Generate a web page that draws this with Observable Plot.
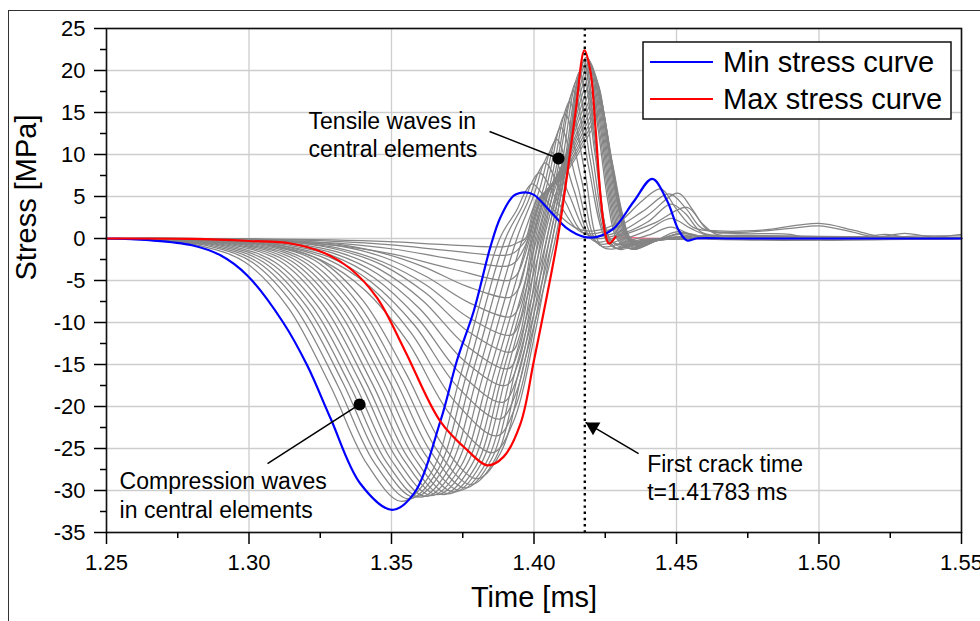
<!DOCTYPE html>
<html><head><meta charset="utf-8">
<script src="https://cdn.jsdelivr.net/npm/d3@7"></script>
<script src="https://cdn.jsdelivr.net/npm/@observablehq/plot@0.6"></script>
<style>
html,body{margin:0;padding:0;background:#fff;overflow:hidden;}
#wrap{position:relative;width:980px;height:621px;overflow:hidden;}
#outer{position:absolute;left:8px;top:10px;width:1000px;height:700px;border-left:1.2px solid #333;border-top:1.2px solid #333;}
#chart{position:absolute;left:0;top:0;}
#legend{position:absolute;left:642px;top:41px;}
</style></head><body>
<div id="wrap"><div id="outer"></div><div id="chart"></div><div id="legend"></div></div>
<script>
// ---- ticks ----
const xMajor = [1.25, 1.30, 1.35, 1.40, 1.45, 1.50, 1.55];
const xMinor = [1.275, 1.325, 1.375, 1.425, 1.475, 1.525];
const yMajor = [-35, -30, -25, -20, -15, -10, -5, 0, 5, 10, 15, 20, 25];
const yMinor = [-32.5, -27.5, -22.5, -17.5, -12.5, -7.5, -2.5, 2.5, 7.5, 12.5, 17.5, 22.5];

// ---- highlighted curves [time ms, stress MPa] ----
const minStressCurve = [[1.25,0],[1.265,-0.2],[1.28,-0.8],[1.29,-2.0],[1.2994,-4.4],[1.312,-10.0],[1.3204,-15.1],[1.3286,-21.4],[1.3391,-29.2],[1.3502,-32.3],[1.3578,-30.4],[1.3672,-21.7],[1.373,-14.5],[1.3789,-8.6],[1.3847,-1.0],[1.3882,2.5],[1.3929,5.1],[1.397,5.5],[1.4,5.2],[1.4058,3.2],[1.4116,1.2],[1.4175,0.2],[1.4222,0.2],[1.428,1.2],[1.435,4.4],[1.4415,7.1],[1.4467,4.5],[1.4508,0.95],[1.4537,-0.24],[1.457,0],[1.47,0],[1.55,0]];
const maxStressCurve = [[1.25,0],[1.28,-0.05],[1.30,-0.3],[1.3146,-0.6],[1.3262,-1.7],[1.3356,-3.6],[1.345,-7.1],[1.3545,-13.2],[1.367,-21.7],[1.3766,-25.2],[1.3836,-27.0],[1.3893,-26.0],[1.3953,-22.0],[1.40,-14.5],[1.4081,-0.4],[1.4116,7.5],[1.4146,15.1],[1.4177,22.4],[1.4198,19.9],[1.4216,13.1],[1.4233,5.2],[1.4251,0.4],[1.4263,-0.6],[1.4286,0.2],[1.44,0],[1.55,0]];

// ---- element curves (gray) ----
const grayA01 = [[1.25,0],[1.2685,-0.3],[1.2835,-0.9],[1.2985,-2.8],[1.3135,-8.1],[1.3285,-17.5],[1.3415,-26.9],[1.3535,-31.3],[1.3639,-27.9],[1.3742,-16.3],[1.388,0],[1.3938,3.3],[1.3972,5.7],[1.3995,6.5],[1.4072,3.3],[1.415,1.2],[1.421,0.9],[1.43,2.0],[1.438,4.5],[1.4445,5.9],[1.45,3.5],[1.456,1.3],[1.465,0.9],[1.48,1.0],[1.5,1.8],[1.512,1.0],[1.522,0.2],[1.535,0.3],[1.55,0.3]];
const grayA02 = [[1.25,0],[1.271,-0.3],[1.286,-0.9],[1.301,-2.8],[1.316,-8.1],[1.331,-17.4],[1.344,-26.7],[1.356,-31.0],[1.3662,-27.6],[1.3764,-16.1],[1.39,0],[1.396,3.9],[1.3996,6.9],[1.402,7.8],[1.4092,3.9],[1.417,0.7],[1.428,1.2],[1.438,3.2],[1.4475,5.3],[1.4535,3.5],[1.459,1.2],[1.47,0.7],[1.49,1.2],[1.5,1.5],[1.51,0.9],[1.52,0.2],[1.53,0.6],[1.54,0.2],[1.55,0.5]];
const grayA03 = [[1.25,0],[1.273,-0.3],[1.288,-0.9],[1.303,-2.8],[1.318,-8.0],[1.333,-17.2],[1.346,-26.5],[1.358,-30.8],[1.3682,-27.4],[1.3784,-16.0],[1.392,0],[1.398,4.5],[1.4016,7.9],[1.404,9.0],[1.4108,4.5],[1.418,0.5],[1.43,0.8],[1.44,2.8],[1.4505,5.4],[1.4555,3.5],[1.461,1.0],[1.47,0.6],[1.49,0.5],[1.495,0.1],[1.505,-0.2],[1.515,0.1],[1.523,0.5],[1.53,0.2],[1.55,0.1]];
const grayA04 = [[1.25,0],[1.275,-0.3],[1.29,-0.9],[1.305,-2.8],[1.32,-8.0],[1.335,-17.2],[1.348,-26.5],[1.36,-30.8],[1.3702,-27.4],[1.3804,-16.0],[1.394,0],[1.4,5.2],[1.4036,9.1],[1.406,10.3],[1.4123,5.2],[1.42,0.2],[1.43,0.5],[1.44,2.0],[1.448,4.1],[1.453,3.0],[1.459,0.7],[1.47,0.3],[1.5,0.2],[1.55,0.1]];
const grayA05 = [[1.25,0],[1.277,-0.3],[1.292,-0.9],[1.307,-2.8],[1.322,-8.0],[1.337,-17.2],[1.35,-26.4],[1.362,-30.7],[1.3722,-27.3],[1.3824,-16.0],[1.396,0],[1.402,5.9],[1.4056,10.4],[1.408,11.8],[1.4139,5.9],[1.421,-0.3],[1.43,0.3],[1.442,1.8],[1.4537,3.7],[1.459,1.8],[1.464,0.5],[1.48,0.3],[1.55,0.1]];
const grayA06 = [[1.25,0],[1.279,-0.3],[1.294,-0.9],[1.309,-2.8],[1.324,-8.0],[1.339,-17.1],[1.352,-26.3],[1.364,-30.6],[1.3742,-27.2],[1.3844,-15.9],[1.398,0],[1.4038,6.6],[1.4072,11.6],[1.4095,13.2],[1.4151,6.6],[1.422,-0.5],[1.432,0],[1.44,1.0],[1.448,2.4],[1.455,1.2],[1.462,0.3],[1.55,0]];
const grayA07 = [[1.25,0],[1.281,-0.3],[1.296,-0.9],[1.311,-2.7],[1.326,-7.9],[1.341,-17.1],[1.354,-26.2],[1.366,-30.5],[1.3761,-27.1],[1.3861,-15.9],[1.3995,0],[1.4053,7.4],[1.4087,13.0],[1.411,14.8],[1.4164,7.4],[1.423,-0.8],[1.433,-0.3],[1.441,0.5],[1.448,1.35],[1.455,0.5],[1.462,0.1],[1.55,0]];
const grayA08 = [[1.25,0],[1.283,-0.3],[1.298,-0.9],[1.313,-2.7],[1.328,-7.9],[1.343,-17.1],[1.356,-26.2],[1.368,-30.5],[1.3779,-27.1],[1.3878,-15.9],[1.401,0],[1.4068,8.2],[1.4102,14.3],[1.4125,16.3],[1.4177,8.2],[1.424,-1.0],[1.434,-0.8],[1.442,-0.2],[1.45,0.2],[1.46,0],[1.55,0]];
const grayA09 = [[1.25,0],[1.285,-0.3],[1.3,-0.9],[1.315,-2.7],[1.33,-7.9],[1.345,-17.0],[1.358,-26.1],[1.37,-30.4],[1.3796,-27.1],[1.3892,-15.8],[1.402,0],[1.408,8.8],[1.4116,15.5],[1.414,17.6],[1.419,8.8],[1.425,0],[1.429,-1.2],[1.437,-0.3],[1.45,0],[1.55,0]];
const grayA10 = [[1.25,0],[1.287,-0.3],[1.302,-0.9],[1.317,-2.7],[1.332,-7.9],[1.347,-16.9],[1.36,-26.0],[1.372,-30.2],[1.3813,-26.9],[1.3906,-15.7],[1.403,0],[1.409,9.4],[1.4126,16.5],[1.415,18.8],[1.4197,9.4],[1.4255,0],[1.4295,-1.2],[1.4375,-0.3],[1.45,0],[1.55,0]];
const grayA11 = [[1.25,0],[1.289,-0.3],[1.304,-0.9],[1.319,-2.7],[1.334,-7.8],[1.349,-16.8],[1.362,-25.8],[1.374,-30.0],[1.3832,-26.7],[1.3923,-15.6],[1.4045,0],[1.4103,9.9],[1.4137,17.4],[1.416,19.8],[1.4205,9.9],[1.426,0],[1.43,-1.3],[1.438,-0.4],[1.45,0],[1.55,0]];
const grayA12 = [[1.25,0],[1.291,-0.3],[1.306,-0.9],[1.321,-2.7],[1.336,-7.7],[1.351,-16.6],[1.364,-25.5],[1.376,-29.7],[1.3849,-26.4],[1.3937,-15.4],[1.4055,0],[1.4113,10.3],[1.4147,18.1],[1.417,20.6],[1.4213,10.3],[1.4265,0],[1.4305,-1.0],[1.4385,-0.3],[1.45,0],[1.55,0]];
const grayA13 = [[1.25,0],[1.293,-0.3],[1.308,-0.9],[1.323,-2.6],[1.338,-7.6],[1.353,-16.4],[1.366,-25.2],[1.378,-29.3],[1.3866,-26.1],[1.3951,-15.2],[1.4065,0],[1.412,10.6],[1.4153,18.7],[1.4175,21.2],[1.4216,10.6],[1.4265,0],[1.4305,-0.8],[1.439,-0.2],[1.45,0],[1.55,0]];
const grayA14 = [[1.25,0],[1.295,-0.3],[1.31,-0.9],[1.325,-2.6],[1.34,-7.4],[1.355,-16.0],[1.368,-24.6],[1.38,-28.6],[1.3883,-25.5],[1.3965,-14.9],[1.4075,0],[1.4128,10.8],[1.4159,18.9],[1.418,21.5],[1.4218,10.8],[1.4265,0],[1.43,-0.7],[1.438,-0.1],[1.45,0],[1.55,0]];
const grayB01 = [[1.25,0],[1.2955,-0.3],[1.3105,-1.0],[1.3255,-2.6],[1.3405,-6.1],[1.3555,-12.2],[1.3705,-20.9],[1.3855,-25.5],[1.3929,-21.7],[1.4002,-11.5],[1.4065,0],[1.4125,10.8],[1.415,18.4],[1.4185,21.6],[1.4225,13.0],[1.426,4.3],[1.429,0],[1.4335,-1.2],[1.4405,-0.3],[1.455,0],[1.55,0]];
const grayB02 = [[1.25,0],[1.297,-0.2],[1.312,-0.9],[1.327,-2.4],[1.342,-5.6],[1.357,-11.3],[1.372,-19.3],[1.387,-23.5],[1.3935,-20.0],[1.4,-10.6],[1.4055,0],[1.4123,10.7],[1.4155,18.2],[1.419,21.4],[1.423,12.8],[1.4265,4.3],[1.4295,0],[1.434,-1.2],[1.441,-0.3],[1.455,0],[1.55,0]];
const grayB03 = [[1.25,0],[1.298,-0.2],[1.313,-0.9],[1.328,-2.2],[1.343,-5.2],[1.358,-10.3],[1.373,-17.6],[1.388,-21.5],[1.3938,-18.3],[1.3996,-9.7],[1.4045,0],[1.412,10.6],[1.416,17.9],[1.4195,21.1],[1.4235,12.7],[1.427,4.2],[1.43,0],[1.4345,-1.3],[1.4415,-0.3],[1.455,0],[1.55,0]];
const grayB04 = [[1.25,0],[1.299,-0.2],[1.314,-0.8],[1.329,-2.0],[1.344,-4.7],[1.359,-9.4],[1.374,-16.0],[1.389,-19.5],[1.3941,-16.6],[1.3992,-8.8],[1.4035,0],[1.4118,10.4],[1.4165,17.6],[1.42,20.7],[1.424,12.4],[1.4275,4.1],[1.4305,0],[1.435,-1.3],[1.442,-0.3],[1.455,0],[1.55,0]];
const grayB05 = [[1.25,0],[1.3,-0.2],[1.315,-0.7],[1.33,-1.8],[1.345,-4.2],[1.36,-8.4],[1.375,-14.4],[1.39,-17.5],[1.3944,-14.9],[1.3988,-7.9],[1.4025,0],[1.406,4.5],[1.4115,10.1],[1.417,17.2],[1.4205,20.2],[1.4245,12.1],[1.428,4.0],[1.431,0],[1.4355,-1.2],[1.4425,-0.3],[1.45,0.8],[1.458,0.2],[1.55,0]];
const grayB06 = [[1.25,0],[1.301,-0.2],[1.316,-0.6],[1.331,-1.6],[1.346,-3.7],[1.361,-7.4],[1.376,-12.7],[1.391,-15.5],[1.3947,-13.2],[1.3984,-7.0],[1.4015,0],[1.405,4.5],[1.4113,9.9],[1.4175,16.7],[1.421,19.7],[1.425,11.8],[1.4285,3.9],[1.4315,0],[1.436,-1.1],[1.443,-0.2],[1.455,0],[1.55,0]];
const grayB07 = [[1.25,0],[1.302,-0.1],[1.317,-0.5],[1.332,-1.4],[1.347,-3.2],[1.362,-6.5],[1.377,-11.1],[1.392,-13.5],[1.395,-11.5],[1.398,-6.1],[1.4005,0],[1.404,4.5],[1.411,9.6],[1.418,16.2],[1.4215,19.1],[1.4255,11.5],[1.429,3.8],[1.432,0],[1.4365,-1.0],[1.4435,-0.2],[1.452,0.6],[1.46,0.1],[1.55,0]];
const grayB08 = [[1.25,0],[1.302,-0.1],[1.317,-0.5],[1.332,-1.2],[1.347,-2.8],[1.362,-5.5],[1.377,-9.4],[1.392,-11.5],[1.395,-9.8],[1.3977,-5.2],[1.4,0],[1.4035,4.5],[1.411,9.3],[1.4185,15.7],[1.422,18.5],[1.426,11.1],[1.4295,3.7],[1.4325,0],[1.437,-0.9],[1.444,-0.2],[1.455,0],[1.55,0]];
const grayB09 = [[1.25,0],[1.302,-0.1],[1.317,-0.4],[1.332,-0.9],[1.347,-2.2],[1.362,-4.5],[1.377,-7.6],[1.392,-9.3],[1.395,-7.9],[1.3975,-4.2],[1.3995,0],[1.403,4.5],[1.4109,9.0],[1.4187,15.2],[1.4222,17.9],[1.4262,10.7],[1.4297,3.6],[1.4327,0],[1.4372,-0.8],[1.4442,-0.1],[1.451,0.5],[1.458,0],[1.55,0]];
const grayB10 = [[1.25,0],[1.3015,-0.1],[1.3165,-0.3],[1.3315,-0.7],[1.3465,-1.7],[1.3615,-3.4],[1.3765,-5.7],[1.3915,-7.0],[1.3945,-6.0],[1.397,-3.2],[1.399,0],[1.4025,4.5],[1.4108,8.7],[1.419,14.7],[1.4225,17.3],[1.4265,10.4],[1.43,3.5],[1.433,0],[1.4375,-0.7],[1.4445,-0.1],[1.455,0],[1.55,0]];
const grayB11 = [[1.25,0],[1.291,-0.1],[1.311,-0.35],[1.331,-0.85],[1.351,-1.9],[1.371,-3.6],[1.391,-5.0],[1.394,-4.3],[1.3965,-2.3],[1.3985,0],[1.402,4.5],[1.4107,8.4],[1.4193,14.2],[1.4228,16.7],[1.4268,10.0],[1.4303,3.3],[1.4333,0],[1.4378,-0.6],[1.4448,-0.1],[1.455,0],[1.55,0]];
const grayB12 = [[1.25,0],[1.2905,-0.07],[1.3105,-0.23],[1.3305,-0.56],[1.3505,-1.25],[1.3705,-2.4],[1.3905,-3.3],[1.3935,-2.8],[1.396,-1.5],[1.398,0],[1.402,4.5],[1.4108,8.1],[1.4195,13.7],[1.423,16.1],[1.427,9.7],[1.4305,3.2],[1.4335,0],[1.438,-0.5],[1.445,0],[1.452,0.7],[1.46,0.2],[1.55,0]];
const grayB13 = [[1.25,0],[1.29,-0.04],[1.31,-0.14],[1.33,-0.34],[1.35,-0.76],[1.37,-1.44],[1.39,-2.0],[1.393,-1.7],[1.3955,-0.9],[1.3975,0],[1.4015,4.5],[1.4106,7.8],[1.4197,13.2],[1.4232,15.5],[1.4272,9.3],[1.4307,3.1],[1.4337,0],[1.4382,-0.5],[1.4452,0],[1.55,0]];
const grayB14 = [[1.25,0],[1.289,-0.02],[1.309,-0.07],[1.329,-0.17],[1.349,-0.38],[1.369,-0.72],[1.389,-1.0],[1.392,-0.85],[1.3945,-0.45],[1.397,0],[1.401,4.5],[1.4105,7.5],[1.42,12.8],[1.4235,15.0],[1.4275,9.0],[1.431,3.0],[1.434,0],[1.4385,-0.5],[1.4455,0],[1.455,0.3],[1.55,0]];

// ---- annotations ----
const crackTime = 1.41783;
const notes = [
  {label: "Tensile waves in\ncentral elements", t: 1.3209, v: 9.68},
  {label: "Compression waves\nin central elements", t: 1.2546, v: -33.25},
  {label: "First crack time\nt=1.41783 ms", t: 1.4397, v: -31.19}
];
const leaders = [
  {t1: 1.3844, v1: 12.74, t2: 1.4086, v2: 9.52},
  {t1: 1.3065, v1: -26.79, t2: 1.3388, v2: -19.76}
];
const crackArrow = [{t1: 1.4367, v1: -25.6, t2: 1.4181, v2: -21.9}];
const legendItems = [
  {label: "Min stress curve", color: "#0000ff"},
  {label: "Max stress curve", color: "#ff0000"}
];

// ---- build tables ----
const grayCurves = [grayA01,grayA02,grayA03,grayA04,grayA05,grayA06,grayA07,grayA08,grayA09,grayA10,grayA11,grayA12,grayA13,grayA14,
  grayB01,grayB02,grayB03,grayB04,grayB05,grayB06,grayB07,grayB08,grayB09,grayB10,grayB11,grayB12,grayB13,grayB14];
const grayRows = grayCurves.flatMap((c, i) => c.map(([t, v]) => ({t, v, id: i})));
const toRows = c => c.map(([t, v]) => ({t, v}));
const blueRows = toRows(minStressCurve);
const redRows = toRows(maxStressCurve);

const FONT = "'Liberation Sans', Arial, Helvetica, sans-serif";

const chart = Plot.plot({
  width: 980,
  height: 621,
  marginLeft: 106,
  marginRight: 19,
  marginTop: 28,
  marginBottom: 89,
  style: {fontFamily: FONT, fontSize: "22px", color: "black", background: "transparent", overflow: "visible"},
  x: {domain: [1.25, 1.55]},
  y: {domain: [-35, 25]},
  marks: [
    Plot.gridX({ticks: xMajor, stroke: "#cdcdcd", strokeOpacity: 1, strokeWidth: 1.3}),
    Plot.gridY({ticks: yMajor, stroke: "#cdcdcd", strokeOpacity: 1, strokeWidth: 1.3}),
    Plot.line(redRows.filter(d => d.t >= 1.4286), {x: "t", y: "v", stroke: "#ff6a8a", strokeWidth: 1.6}),
    Plot.line(grayRows, {x: "t", y: "v", z: "id", stroke: "#858585", strokeWidth: 1.25, curve: "catmull-rom"}),
    Plot.line(blueRows, {x: "t", y: "v", stroke: "#0000ff", strokeWidth: 2.2, curve: "catmull-rom"}),
    Plot.line(redRows.filter(d => d.t <= 1.4286), {x: "t", y: "v", stroke: "#ff0000", strokeWidth: 2.2, curve: "catmull-rom"}),
    Plot.ruleX([crackTime], {stroke: "black", strokeWidth: 2.4, strokeDasharray: "2.4,3.8"}),
    Plot.link(leaders, {x1: "t1", y1: "v1", x2: "t2", y2: "v2", stroke: "black", strokeWidth: 1.5}),
    Plot.dot(leaders, {x: "t2", y: "v2", r: 6, fill: "black", stroke: "none"}),
    Plot.link(crackArrow, {x1: "t1", y1: "v1", x2: "t2", y2: "v2", stroke: "black", strokeWidth: 1.5}),
    Plot.dot(crackArrow, {x: "t2", y: "v2", symbol: "triangle", r: 5.5, fill: "black", stroke: "none", rotate: -60, dx: 7.4, dy: 4.3}),
    Plot.text(notes, {x: "t", y: "v", text: "label", textAnchor: "start", lineAnchor: "bottom", lineHeight: 1.24, fontSize: 23, fill: "black"}),
    Plot.frame({stroke: "#111", strokeWidth: 1.6}),
    Plot.axisX({ticks: xMajor, tickSize: 12, tickPadding: 10, tickFormat: d3.format(".2f"), fontSize: 22, label: null, strokeWidth: 1.5}),
    Plot.axisX({ticks: xMinor, tickSize: 6, tickFormat: () => "", label: null, strokeWidth: 1.5}),
    Plot.axisY({ticks: yMajor, tickSize: 12, tickPadding: 9, tickFormat: d => String(d), fontSize: 22, label: null, strokeWidth: 1.5}),
    Plot.axisY({ticks: yMinor, tickSize: 6, tickFormat: () => "", label: null, strokeWidth: 1.5}),
    Plot.text(["Time [ms]"], {text: d => d, frameAnchor: "bottom", dy: 74, fontSize: 29, fill: "black"}),
    Plot.text(["Stress [MPa]"], {text: d => d, frameAnchor: "left", dx: -79.5, rotate: -90, fontSize: 29, fill: "black"})
  ]
});
document.getElementById("chart").appendChild(chart);

// ---- legend (inside plot area, top right) ----
const ns = "http://www.w3.org/2000/svg";
const lg = document.createElementNS(ns, "svg");
lg.setAttribute("width", 312);
lg.setAttribute("height", 81);
lg.style.fontFamily = FONT;
const box = document.createElementNS(ns, "rect");
box.setAttribute("x", 1); box.setAttribute("y", 1);
box.setAttribute("width", 308); box.setAttribute("height", 77);
box.setAttribute("fill", "white"); box.setAttribute("stroke", "#111"); box.setAttribute("stroke-width", 1.5);
lg.appendChild(box);
legendItems.forEach((it, i) => {
  const yy = 21 + i * 37;
  const ln = document.createElementNS(ns, "line");
  ln.setAttribute("x1", 8); ln.setAttribute("x2", 71);
  ln.setAttribute("y1", yy); ln.setAttribute("y2", yy);
  ln.setAttribute("stroke", it.color); ln.setAttribute("stroke-width", 2.2);
  lg.appendChild(ln);
  const tx = document.createElementNS(ns, "text");
  tx.setAttribute("x", 81); tx.setAttribute("y", yy + 10);
  tx.setAttribute("font-size", 29); tx.setAttribute("fill", "black");
  tx.textContent = it.label;
  lg.appendChild(tx);
});
document.getElementById("legend").appendChild(lg);
</script>
</body></html>
